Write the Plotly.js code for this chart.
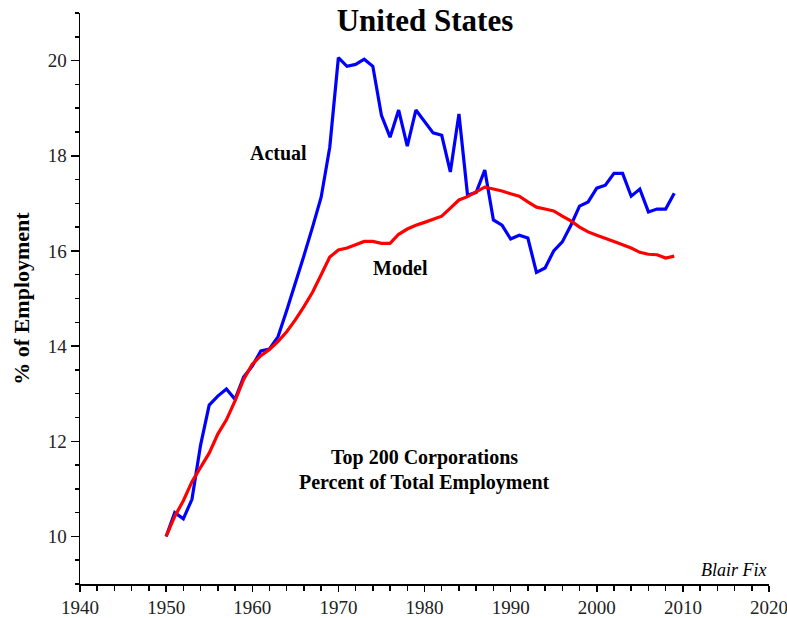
<!DOCTYPE html>
<html>
<head>
<meta charset="utf-8">
<script src="https://cdn.plot.ly/plotly-3.0.1.min.js"></script>
<style>
  html, body { margin: 0; padding: 0; background: #fff; }
  #chart { width: 787px; height: 618px; }
</style>
</head>
<body>
<div id="chart"></div>
<script>
const years = [];
for (let y = 1950; y <= 2009; y++) years.push(y);

const actual = [
  10.0, 10.5, 10.37, 10.78, 11.92, 12.76, 12.95, 13.1, 12.88, 13.35,
  13.58, 13.9, 13.94, 14.2, 14.75, 15.3, 15.9, 16.5, 17.13, 18.18,
  20.06, 19.88, 19.92, 20.03, 19.88, 18.85, 18.39, 18.96, 18.2, 18.96,
  18.72, 18.48, 18.43, 17.66, 18.88, 17.17, 17.23, 17.7, 16.65, 16.54,
  16.25, 16.33, 16.27, 15.55, 15.64, 16.0, 16.19, 16.54, 16.94, 17.03,
  17.32, 17.38, 17.63, 17.63, 17.15, 17.3, 16.82, 16.88, 16.88, 17.21
];

const model = [
  10.0, 10.42, 10.75, 11.15, 11.45, 11.75, 12.15, 12.45, 12.85, 13.3,
  13.62, 13.8, 13.93, 14.1, 14.3, 14.55, 14.83, 15.13, 15.5, 15.87,
  16.02, 16.06, 16.13, 16.2, 16.2, 16.16, 16.16, 16.35, 16.46, 16.54,
  16.6, 16.66, 16.73, 16.9, 17.07, 17.14, 17.24, 17.34, 17.3, 17.26,
  17.2, 17.15, 17.03, 16.92, 16.88, 16.84, 16.73, 16.63, 16.5, 16.4,
  16.33, 16.27, 16.2, 16.13, 16.06, 15.97, 15.93, 15.92, 15.85, 15.89
];

const xTicks = [1940, 1950, 1960, 1970, 1980, 1990, 2000, 2010, 2020];
const yTicks = [10, 12, 14, 16, 18, 20];

const serif = "Liberation Serif, Times New Roman, serif";

const traces = [
  { x: years, y: actual, type: 'scatter', mode: 'lines', name: 'Actual',
    line: { color: '#0000ff', width: 3.2 } },
  { x: years, y: model, type: 'scatter', mode: 'lines', name: 'Model',
    line: { color: '#ff0000', width: 3.2 } }
];

const layout = {
  width: 787, height: 618,
  margin: { l: 80, r: 18, t: 13, b: 34 },
  paper_bgcolor: '#fff', plot_bgcolor: '#fff',
  showlegend: false,
  font: { family: serif, color: '#000' },
  title: { text: '<b>United States</b>', font: { family: serif, size: 31, color: '#000' },
           x: 0.54, xanchor: 'center', y: 1 - 20/618, yanchor: 'middle' },
  xaxis: {
    range: [1940, 2020], tickvals: xTicks, ticktext: xTicks.map(String),
    showgrid: false, zeroline: false, showline: true, linecolor: '#000', linewidth: 1.5,
    ticks: 'outside', ticklen: 6, tickwidth: 1.5, tickcolor: '#000',
    tickfont: { family: serif, size: 19, color: '#222' },
    ticklabeloverflow: 'allow',
    minor: { dtick: 2, ticks: 'outside', ticklen: 5, tickwidth: 1.5, tickcolor: '#000', showgrid: false },
    fixedrange: true
  },
  yaxis: {
    range: [9, 21], tickvals: yTicks, ticktext: yTicks.map(String),
    showgrid: false, zeroline: false, showline: true, linecolor: '#000', linewidth: 1.5,
    ticks: 'outside', ticklen: 8, tickwidth: 1.5, tickcolor: '#000',
    tickfont: { family: serif, size: 19, color: '#222' },
    minor: { dtick: 0.5, ticks: 'outside', ticklen: 4, tickwidth: 1.5, tickcolor: '#000', showgrid: false },
    title: { text: '<b>% of Employment</b>', font: { family: serif, size: 22, color: '#000' }, standoff: 12 },
    fixedrange: true
  },
  annotations: [
    { x: 1963.0, y: 18.05, text: '<b>Actual</b>', showarrow: false,
      font: { family: serif, size: 20, color: '#000' } },
    { x: 1977.2, y: 15.64, text: '<b>Model</b>', showarrow: false,
      font: { family: serif, size: 20, color: '#000' } },
    { x: 1980, y: 11.65, text: '<b>Top 200 Corporations</b>', showarrow: false,
      font: { family: serif, size: 20, color: '#000' } },
    { x: 1980, y: 11.14, text: '<b>Percent of Total Employment</b>', showarrow: false,
      font: { family: serif, size: 20, color: '#000' } },
    { x: 2020, y: 9.29, xanchor: 'right', text: '<i>Blair Fix</i>', showarrow: false,
      font: { family: serif, size: 18, color: '#000' } }
  ]
};

Plotly.newPlot('chart', traces, layout, { staticPlot: true, displayModeBar: false });
</script>
</body>
</html>
